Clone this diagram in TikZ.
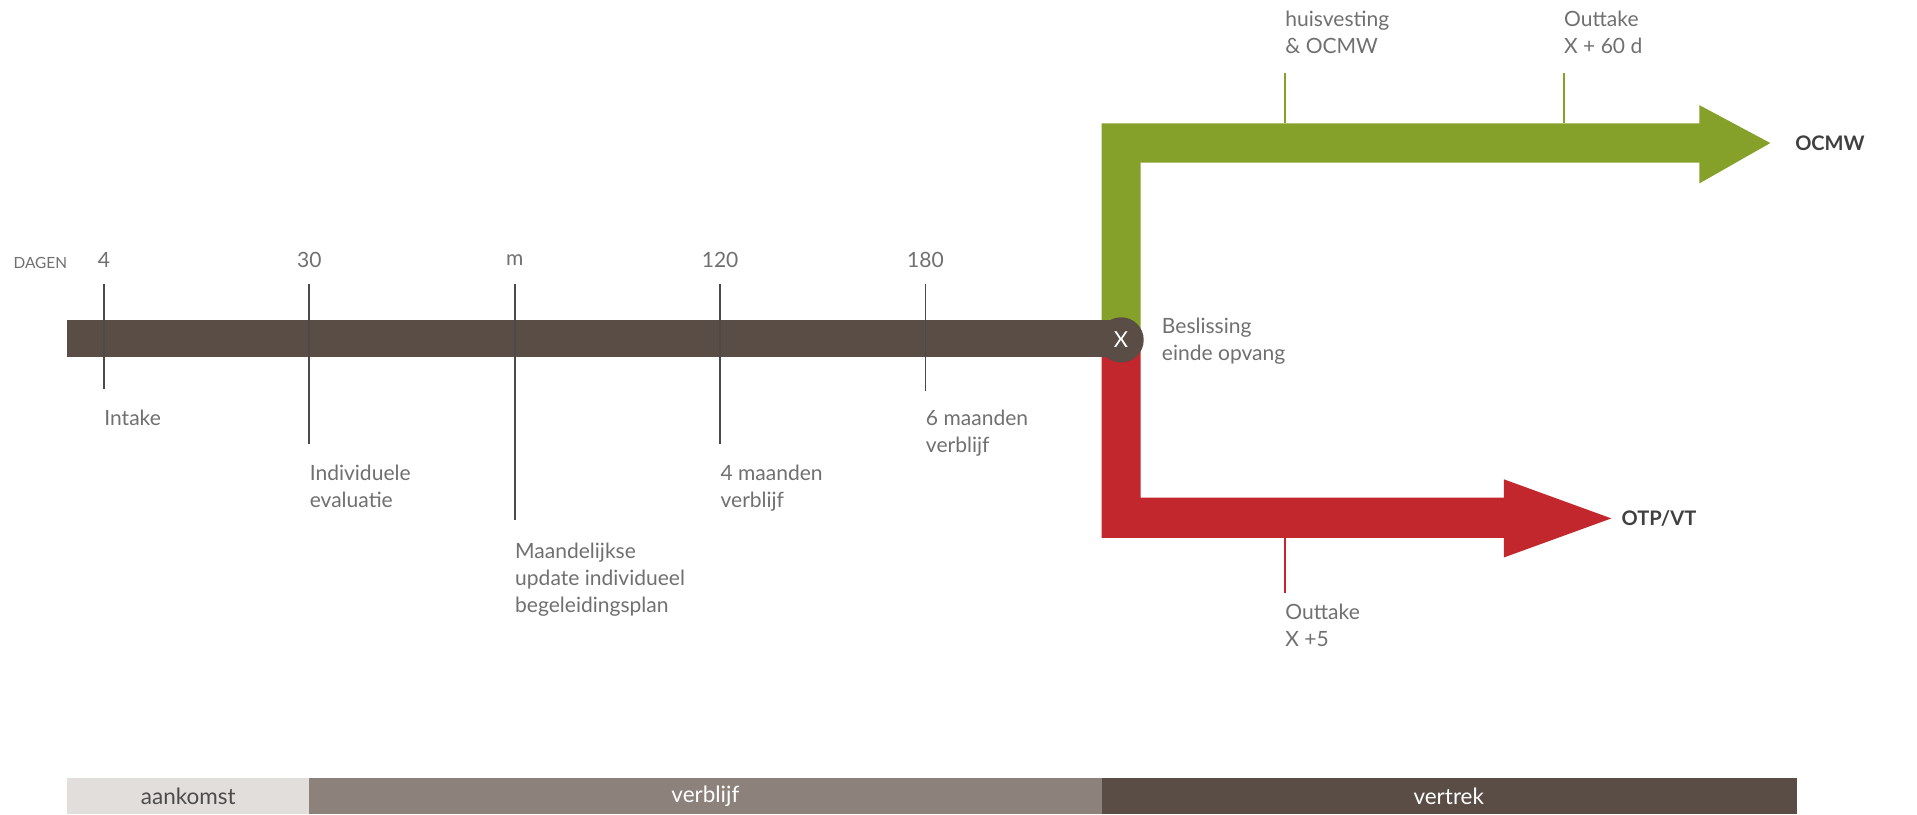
\documentclass[tikz,border=0pt]{standalone}
\usepackage{fontspec}
\setmainfont{Lato}
\definecolor{barbrown}{HTML}{594D45}
\definecolor{grn}{HTML}{86A12A}
\definecolor{rd}{HTML}{C1272D}
\definecolor{txt}{HTML}{707070}
\definecolor{tickc}{HTML}{4A4A4A}
\definecolor{lightband}{HTML}{E2DEDB}
\definecolor{midband}{HTML}{8C827B}
\begin{document}
\begin{tikzpicture}[x=0.5pt,y=-0.5pt,
  lbl/.style={font=\fontsize{8.6}{11}\selectfont, text=txt, inner sep=0pt, align=left},
  num/.style={font=\fontsize{8.6}{11}\selectfont, text=txt, inner sep=0pt},
  tickline/.style={draw=tickc, line width=0.7pt},
  dest/.style={font=\fontsize{8.2}{10}\selectfont\bfseries, text=black!75, inner sep=0pt, anchor=west},
  band/.style={draw=none, inner sep=0pt, minimum height=15pt, font=\fontsize{9.2}{10}\selectfont}]
\useasboundingbox (0,0) rectangle (1568,666);
\fill[white] (0,0) rectangle (1568,666);

% branches
\fill[grn] (901,278) -- (901,101) -- (1390,101) -- (1390,86) -- (1448,117) -- (1390,150) -- (1390,133) -- (933,133) -- (933,278) -- cycle;
\fill[rd] (901,278) -- (901,440) -- (1230,440) -- (1230,456) -- (1318,424) -- (1230,392) -- (1230,407) -- (933,407) -- (933,278) -- cycle;

% main bar
\fill[barbrown] (55,262) rectangle (917,292);
\node[circle, fill=barbrown, minimum size=18.5pt, inner sep=0pt, text=white, font=\fontsize{9}{10}\selectfont] (X) at (917,278) {X};

% day labels
\node[font=\fontsize{6.3}{7}\selectfont, text=txt, inner sep=0pt] (dagen) at (33,215) {DAGEN};
\foreach \xx/\nm/\txt/\bot in {85/d4/4/318, 253/d30/30/363, 421/dm/m/425, 589/d120/120/363, 757/d180/180/320}{
  \node[num] (\nm) at (\xx,213) {\txt};
  \coordinate (\nm t) at (\xx,232);
  \coordinate (\nm b) at (\xx,\bot);
  \draw[tickline] (\nm t) -- (\nm b);
}

\node[lbl, anchor=north west] (intake) at (85,335) {Intake};
\node[lbl, anchor=north west] (eval) at (253,380) {Individuele\\evaluatie};
\node[lbl, anchor=north west] (maand) at (421,444) {Maandelijkse\\update individueel\\begeleidingsplan};
\node[lbl, anchor=north west] (vier) at (589,380) {4 maanden\\verblijf};
\node[lbl, anchor=north west] (zes) at (757,335) {6 maanden\\verblijf};

\node[lbl, anchor=north west] (besl) at (950,260) {Beslissing\\einde opvang};

% green ticks
\node[lbl, anchor=north west] (huis) at (1051,9) {huisvesting\\\& OCMW};
\node[lbl, anchor=north west] (out60) at (1279,9) {Outtake\\X + 60 d};
\coordinate (g1t) at (1051,60); \coordinate (g1b) at (1051,101);
\coordinate (g2t) at (1279,60); \coordinate (g2b) at (1279,101);
\draw[grn, line width=0.7pt] (g1t) -- (g1b);
\draw[grn, line width=0.7pt] (g2t) -- (g2b);
\node[dest] (ocmw) at (1468,117) {OCMW};

% red tick
\coordinate (r1t) at (1051,440); \coordinate (r1b) at (1051,485);
\draw[rd, line width=0.7pt] (r1t) -- (r1b);
\node[lbl, anchor=north west] (out5) at (1051,494) {Outtake\\X +5};
\node[dest] (otp) at (1326,424) {OTP/VT};

% bottom band
\fill[lightband] (55,636) rectangle (253,666);
\fill[midband] (253,636) rectangle (901,666);
\fill[barbrown] (901,636) rectangle (1470,666);
\node[band, text=black!70] (aank) at (154,651) {aankomst};
\node[band, text=white] (verb) at (577,651) {verblijf};
\node[band, text=white] (vert) at (1185,651) {vertrek};
\end{tikzpicture}
\end{document}
